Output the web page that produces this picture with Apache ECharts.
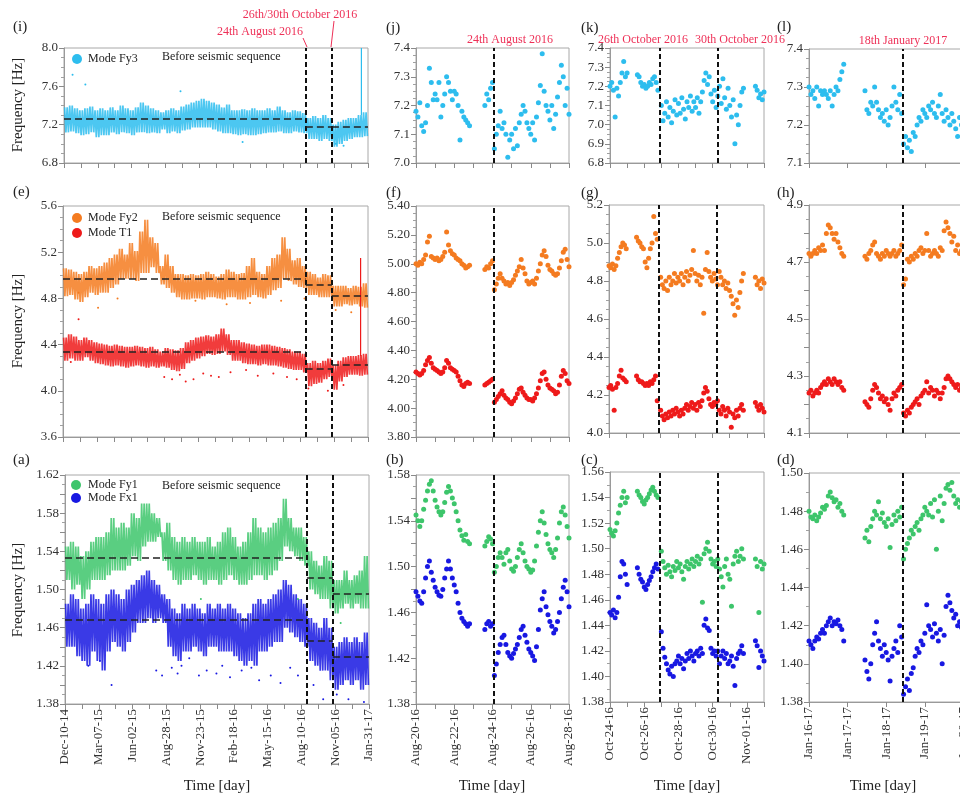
<!DOCTYPE html>
<html><head><meta charset="utf-8">
<script src="https://cdn.jsdelivr.net/npm/echarts@6/dist/echarts.min.js"></script>
<style>html,body{margin:0;padding:0;background:#fff}#c{width:960px;height:794px}</style>
</head><body><div id="c"></div>
<script>
// ---------------- DATA ----------------
// Long-term panels (i),(e),(a): days since Dec-10-14, 60 equal bins over 783 days, band upper/lower
const wideSpan = 783;
const wideLabels = ['Dec-10-14','Mar-07-15','Jun-02-15','Aug-28-15','Nov-23-15','Feb-18-16','May-15-16','Aug-10-16','Nov-05-16','Jan-31-17'];
const wideQuakes = [623, 690];

const fy3Hi = [7.38,7.40,7.37,7.35,7.37,7.39,7.35,7.37,7.35,7.38, 7.35,7.40,7.37,7.35,7.38,7.43,7.40,7.37,7.35,7.33, 7.35,7.37,7.35,7.39,7.41,7.43,7.45,7.47,7.45,7.43, 7.41,7.38,7.41,7.35,7.35,7.36,7.35,7.37,7.35,7.35, 7.37,7.35,7.39,7.35,7.33,7.35,7.34,7.32,7.27,7.29, 7.27,7.30,7.27,7.20,7.23,7.25,7.27,7.27,7.30,7.33];
const fy3Lo = [7.12,7.13,7.11,7.09,7.10,7.12,7.07,7.09,7.09,7.12, 7.10,7.12,7.11,7.09,7.12,7.12,7.11,7.12,7.11,7.15, 7.11,7.13,7.11,7.14,7.15,7.17,7.17,7.17,7.17,7.15, 7.13,7.11,7.11,7.10,7.09,7.10,7.09,7.09,7.10,7.11, 7.12,7.12,7.13,7.11,7.11,7.13,7.12,7.11,7.05,7.05, 7.03,7.05,7.03,6.97,7.00,7.03,7.05,7.07,7.07,7.08];
const fy3Out = [[22,7.72],[55,7.62],[300,7.55],[460,7.02],[720,6.98],[700,7.0]];
const fy3Spike = [[766,7.30,8.00]];
const fy3Mean = [[0,623,7.26],[623,690,7.178],[690,783,7.175]];

const fy2Hi = [5.06,5.05,5.03,5.01,5.03,5.08,5.06,5.08,5.11,5.15, 5.18,5.23,5.18,5.28,5.21,5.38,5.48,5.33,5.28,5.08, 5.18,5.08,5.01,5.01,5.00,5.01,5.00,5.01,5.03,5.01, 4.99,5.01,5.05,5.03,5.01,5.02,5.08,5.15,5.03,5.01, 5.08,5.15,5.18,5.33,5.23,5.13,5.15,5.08,5.03,5.01, 4.98,5.01,5.00,4.91,4.91,4.91,4.89,4.91,4.90,4.93];
const fy2Lo = [4.82,4.83,4.79,4.77,4.81,4.85,4.83,4.85,4.85,4.89, 4.92,4.97,4.97,4.97,4.95,5.02,5.02,5.07,5.02,4.92, 4.89,4.85,4.81,4.79,4.79,4.80,4.80,4.79,4.81,4.81, 4.80,4.79,4.81,4.81,4.79,4.79,4.81,4.83,4.81,4.80, 4.83,4.87,4.89,4.97,4.95,4.92,4.90,4.89,4.83,4.83, 4.81,4.81,4.81,4.73,4.73,4.75,4.74,4.75,4.73,4.72];
const fy2Out = [[40,4.85],[90,4.72],[140,4.80],[340,4.78],[420,4.75],[480,4.76],[560,4.78],[620,4.80],[700,4.70],[740,4.68]];
const fy2Mean = [[0,623,4.972],[623,690,4.92],[690,783,4.82]];

const t1Hi = [4.46,4.49,4.47,4.44,4.46,4.44,4.42,4.41,4.40,4.39, 4.40,4.39,4.38,4.38,4.39,4.38,4.37,4.38,4.36,4.34, 4.37,4.36,4.35,4.37,4.42,4.44,4.46,4.47,4.48,4.47, 4.49,4.54,4.49,4.44,4.44,4.42,4.41,4.40,4.39,4.40, 4.40,4.39,4.38,4.37,4.36,4.34,4.34,4.32,4.24,4.26, 4.24,4.26,4.28,4.22,4.26,4.29,4.30,4.30,4.31,4.32];
const t1Lo = [4.26,4.28,4.26,4.26,4.29,4.26,4.24,4.23,4.22,4.21, 4.22,4.21,4.20,4.21,4.22,4.21,4.20,4.21,4.20,4.21, 4.20,4.18,4.17,4.19,4.24,4.26,4.28,4.30,4.32,4.31, 4.32,4.34,4.31,4.26,4.26,4.24,4.23,4.23,4.22,4.23, 4.22,4.22,4.21,4.20,4.19,4.18,4.18,4.16,4.04,4.06, 4.07,4.10,4.12,4.01,4.08,4.12,4.14,4.14,4.13,4.14];
const t1Out = [[260,4.12],[280,4.10],[300,4.14],[315,4.08],[335,4.10],[360,4.15],[380,4.13],[400,4.12],[430,4.16],[470,4.18],[500,4.13],[540,4.15],[575,4.12],[600,4.10],[630,4.02],[680,4.0],[720,4.05],[40,4.62],[20,4.25]];
const t1Spike = [[764,4.30,5.15]];
const t1Mean = [[0,623,4.335],[623,690,4.19],[690,783,4.225]];

const fy1Hi = [1.545,1.550,1.545,1.535,1.540,1.550,1.555,1.555,1.560,1.575, 1.565,1.570,1.565,1.580,1.575,1.590,1.590,1.580,1.575,1.560, 1.570,1.555,1.550,1.555,1.550,1.555,1.550,1.550,1.555,1.545, 1.550,1.560,1.565,1.555,1.545,1.550,1.560,1.575,1.565,1.560, 1.565,1.570,1.575,1.595,1.575,1.565,1.565,1.555,1.540,1.530, 1.525,1.535,1.530,1.510,1.510,1.520,1.510,1.515,1.520,1.535];
const fy1Lo = [1.510,1.500,1.505,1.490,1.500,1.510,1.510,1.510,1.515,1.520, 1.520,1.520,1.525,1.535,1.530,1.545,1.550,1.550,1.555,1.530, 1.520,1.510,1.505,1.510,1.510,1.515,1.510,1.505,1.510,1.510, 1.505,1.510,1.515,1.510,1.505,1.505,1.510,1.515,1.515,1.510, 1.515,1.520,1.530,1.545,1.540,1.535,1.530,1.525,1.500,1.495, 1.490,1.490,1.480,1.475,1.480,1.485,1.480,1.485,1.480,1.480];
const fy1Out = [[350,1.49],[600,1.49],[710,1.465]];
const fy1Mean = [[0,623,1.533],[623,690,1.512],[690,783,1.496]];

const fx1Hi = [1.485,1.495,1.490,1.480,1.485,1.495,1.490,1.485,1.495,1.500, 1.495,1.490,1.500,1.505,1.510,1.515,1.520,1.510,1.505,1.495, 1.490,1.480,1.475,1.485,1.480,1.485,1.480,1.475,1.485,1.480, 1.485,1.480,1.485,1.480,1.475,1.470,1.475,1.485,1.490,1.485, 1.490,1.495,1.500,1.510,1.505,1.495,1.490,1.485,1.470,1.465, 1.460,1.470,1.460,1.440,1.445,1.450,1.445,1.450,1.445,1.455];
const fx1Lo = [1.440,1.440,1.430,1.425,1.420,1.435,1.425,1.415,1.435,1.445, 1.440,1.435,1.445,1.455,1.465,1.465,1.470,1.465,1.470,1.465, 1.440,1.430,1.425,1.435,1.435,1.440,1.435,1.430,1.440,1.440, 1.435,1.435,1.435,1.430,1.425,1.420,1.425,1.420,1.435,1.435, 1.440,1.445,1.445,1.460,1.455,1.450,1.445,1.440,1.425,1.420, 1.415,1.415,1.405,1.395,1.400,1.405,1.400,1.405,1.395,1.400];
const fx1Out = [[235,1.415],[250,1.41],[275,1.418],[290,1.412],[300,1.42],[320,1.428],[345,1.41],[365,1.415],[390,1.412],[405,1.42],[425,1.408],[455,1.415],[480,1.418],[500,1.405],[530,1.41],[555,1.402],[580,1.418],[600,1.41],[640,1.40],[665,1.385],[700,1.39],[730,1.385],[770,1.382],[120,1.40],[60,1.42],[90,1.425]];
const fx1Mean = [[0,623,1.468],[623,690,1.446],[690,783,1.430]];

// Column 2: days since Aug-20-16
const col2Labels = ['Aug-20-16','Aug-22-16','Aug-24-16','Aug-26-16','Aug-28-16'];
const col2Quakes = [4.07];
const t2 = [0,0.1,0.2,0.3,0.4,0.5,0.6,0.7,0.8,0.9,1.0,1.1,1.2,1.3,1.4,1.5,1.6,1.7,1.8,1.9,2.0,2.1,2.2,2.3,2.4,2.5,2.6,2.7,2.8,
  3.6,3.7,3.8,3.9,4.0,
  4.1,4.2,4.3,4.4,4.5,4.6,4.7,4.8,4.9,5.0,5.1,5.2,5.3,5.4,5.5,5.6,5.7,5.8,5.9,6.0,6.1,6.2,6.3,6.4,6.5,6.6,6.7,6.8,6.9,7.0,7.1,7.2,7.3,7.4,7.5,7.6,7.7,7.8,7.9,8.0];
const j_fy3 = [7.18,7.16,7.21,7.13,7.11,7.14,7.20,7.33,7.28,7.22, 7.24,7.22,7.28,7.16,7.20,7.24,7.30,7.28,7.25,7.22, 7.25,7.24,7.20,7.08,7.18,7.16,7.15,7.14,7.13,
  7.20,7.24,7.22,7.26,7.28,
  7.05,7.10,7.13,7.18,7.12,7.14,7.10,7.02,7.08,7.10, 7.05,7.12,7.06,7.14,7.17,7.20,7.18,7.14,7.12,7.10, 7.14,7.08,7.16,7.21,7.27,7.38,7.25,7.20,7.18,7.15, 7.20,7.12,7.17,7.23,7.28,7.34,7.30,7.20,7.26,7.17];
const f_fy2 = [5.00,4.99,5.01,5.00,5.03,5.06,5.15,5.19,5.05,5.04, 5.03,5.04,5.02,5.03,5.05,5.08,5.22,5.13,5.09,5.07, 5.06,5.04,5.03,5.02,5.00,4.99,4.97,4.98,4.99,
  4.96,4.98,4.97,5.00,5.02,
  4.82,4.86,4.90,4.93,4.90,4.88,4.86,4.87,4.85,4.87, 4.89,4.92,4.95,4.98,5.03,4.97,4.93,4.88,4.86,4.87, 4.88,4.86,4.90,4.95,5.00,5.06,5.09,5.05,4.99,4.96, 4.95,4.93,4.92,4.93,4.97,5.02,5.08,5.10,5.03,4.98];
const f_t1 = [4.25,4.24,4.23,4.24,4.26,4.30,4.33,4.35,4.31,4.28, 4.27,4.26,4.25,4.24,4.25,4.28,4.33,4.31,4.28,4.27, 4.26,4.25,4.22,4.19,4.16,4.15,4.17,4.18,4.17,
  4.16,4.17,4.18,4.19,4.20,
  4.04,4.06,4.08,4.10,4.12,4.09,4.07,4.06,4.04,4.03, 4.05,4.07,4.10,4.13,4.14,4.11,4.09,4.07,4.06,4.06, 4.05,4.07,4.10,4.14,4.19,4.24,4.25,4.20,4.16,4.14, 4.13,4.12,4.10,4.11,4.16,4.22,4.26,4.24,4.19,4.17];
const b_fy1 = [1.545,1.540,1.535,1.540,1.550,1.558,1.566,1.572,1.575,1.566, 1.558,1.552,1.548,1.545,1.548,1.556,1.565,1.570,1.566,1.560, 1.555,1.548,1.540,1.532,1.527,1.523,1.528,1.522,1.520,
  1.518,1.522,1.526,1.524,1.520,
  1.495,1.500,1.508,1.512,1.508,1.502,1.512,1.515,1.505,1.498, 1.496,1.500,1.508,1.515,1.520,1.512,1.505,1.500,1.498,1.495, 1.497,1.505,1.518,1.530,1.540,1.548,1.538,1.528,1.520,1.515, 1.512,1.508,1.515,1.525,1.538,1.548,1.552,1.545,1.535,1.525];
const b_fx1 = [1.478,1.474,1.470,1.468,1.478,1.490,1.500,1.505,1.495,1.488, 1.482,1.478,1.475,1.474,1.480,1.490,1.498,1.505,1.498,1.490, 1.484,1.478,1.468,1.460,1.455,1.452,1.450,1.448,1.450,
  1.445,1.450,1.452,1.448,1.450,
  1.405,1.415,1.425,1.432,1.438,1.440,1.432,1.425,1.422,1.420, 1.424,1.428,1.432,1.438,1.445,1.448,1.440,1.434,1.428,1.425, 1.422,1.418,1.430,1.445,1.462,1.472,1.478,1.465,1.458,1.452, 1.448,1.442,1.445,1.452,1.460,1.472,1.482,1.488,1.478,1.465];

// Column 3: days since Oct-24-16
const col3Labels = ['Oct-24-16','Oct-26-16','Oct-28-16','Oct-30-16','Nov-01-16'];
const col3Quakes = [2.9, 6.28];
const t3 = [0,0.1,0.2,0.3,0.4,0.5,0.6,0.7,0.8,0.9,1.0,
  1.6,1.7,1.8,1.9,2.0,2.1,2.2,2.3,2.4,2.5,2.6,2.7,2.8,
  3.0,3.1,3.2,3.3,3.4,3.5,3.6,3.7,3.8,3.9,4.0,4.1,4.2,4.3,4.4,4.5,4.6,4.7,4.8,4.9,5.0,5.1,5.2,5.3,5.4,5.5,5.6,5.7,5.8,5.9,6.0,6.1,6.2,6.3,6.4,6.5,6.6,6.7,6.8,6.9,7.0,7.1,7.2,7.3,7.4,7.5,7.6,7.7,7.8,
  8.5,8.6,8.7,8.8,8.9,9.0];
const k_fy3 = [7.20,7.22,7.18,7.04,7.19,7.15,7.22,7.27,7.33,7.25,7.27,
  7.26,7.25,7.22,7.20,7.21,7.19,7.20,7.22,7.21,7.24,7.25,7.22,7.18,
  7.10,7.02,7.06,7.12,7.04,7.09,7.01,7.07,7.13,7.05, 7.11,7.06,7.14,7.08,7.03,7.12,7.09,7.15,7.07,7.12, 7.09,7.14,7.06,7.12,7.17,7.23,7.27,7.21,7.25,7.16, 7.12,7.18,7.09,7.15,7.20,7.11,7.24,7.14,7.08,7.19, 7.10,7.04,7.13,6.90,7.05,7.00,7.10,7.17,7.19,
  7.20,7.18,7.14,7.16,7.13,7.17];
const g_fy2 = [4.88,4.87,4.89,4.86,4.88,4.92,4.95,4.98,5.00,4.99,4.97,
  5.03,5.01,5.00,4.98,4.97,4.90,4.87,4.92,4.97,5.00,5.14,5.05,5.02,
  4.82,4.78,4.76,4.80,4.75,4.82,4.78,4.80,4.84,4.79, 4.82,4.80,4.84,4.78,4.82,4.85,4.80,4.83,4.86,4.96, 4.84,4.80,4.83,4.78,4.82,4.63,4.86,4.95,4.85,4.82, 4.80,4.84,4.81,4.78,4.85,4.82,4.78,4.80,4.76,4.79, 4.75,4.72,4.68,4.62,4.70,4.66,4.74,4.80,4.84,
  4.82,4.78,4.80,4.76,4.81,4.79];
const g_t1 = [4.24,4.25,4.23,4.12,4.24,4.26,4.30,4.33,4.29,4.28,4.27,
  4.30,4.28,4.27,4.27,4.26,4.25,4.26,4.25,4.27,4.26,4.28,4.30,4.17,
  4.12,4.09,4.07,4.10,4.08,4.11,4.09,4.12,4.10,4.13, 4.11,4.09,4.12,4.10,4.13,4.15,4.12,4.14,4.16,4.13, 4.15,4.12,4.16,4.14,4.17,4.21,4.24,4.22,4.18,4.15, 4.14,4.16,4.15,4.17,4.12,4.10,4.14,4.12,4.09,4.13, 4.11,4.03,4.10,4.08,4.12,4.09,4.13,4.15,4.12,
  4.16,4.14,4.12,4.15,4.13,4.11];
const c_fy1 = [1.515,1.512,1.510,1.514,1.520,1.528,1.534,1.540,1.545,1.536,1.540,
  1.545,1.542,1.540,1.537,1.535,1.538,1.540,1.543,1.546,1.548,1.545,1.542,1.540,
  1.498,1.490,1.485,1.480,1.487,1.482,1.478,1.486,1.483,1.490, 1.485,1.488,1.482,1.476,1.486,1.490,1.484,1.488,1.492,1.486, 1.490,1.494,1.488,1.492,1.458,1.496,1.500,1.505,1.498,1.492, 1.488,1.490,1.486,1.492,1.484,1.478,1.470,1.486,1.492,1.480, 1.476,1.455,1.488,1.494,1.498,1.490,1.494,1.500,1.492,
  1.492,1.486,1.450,1.490,1.484,1.488];
const c_fx1 = [1.450,1.448,1.452,1.446,1.450,1.462,1.478,1.490,1.488,1.480,1.472,
  1.485,1.480,1.476,1.474,1.470,1.468,1.472,1.475,1.478,1.482,1.485,1.488,1.484,
  1.435,1.422,1.415,1.410,1.405,1.402,1.408,1.400,1.410,1.412, 1.416,1.410,1.414,1.406,1.412,1.418,1.414,1.420,1.416,1.412, 1.418,1.420,1.416,1.422,1.418,1.440,1.445,1.438,1.436,1.422, 1.418,1.420,1.416,1.420,1.410,1.416,1.420,1.414,1.418,1.410, 1.412,1.416,1.408,1.393,1.414,1.418,1.420,1.424,1.418,
  1.428,1.424,1.407,1.420,1.416,1.412];

// Column 4: days since Jan-16-17
const col4Labels = ['Jan-16-17','Jan-17-17','Jan-18-17','Jan-19-17','Jan-20-17'];
const col4Quakes = [2.42];
const t4 = [0,0.05,0.1,0.15,0.2,0.25,0.3,0.35,0.4,0.45,0.5,0.55,0.6,0.65,0.7,0.75,0.8,0.85,0.9,
  1.45,1.5,1.55,1.6,1.65,1.7,1.75,1.8,1.85,1.9,1.95,2.0,2.05,2.1,2.15,2.2,2.25,2.3,2.35,2.4,
  2.45,2.5,2.55,2.6,2.65,2.7,2.75,2.8,2.85,2.9,2.95,3.0,3.05,3.1,3.15,3.2,3.25,3.3,3.35,3.4,3.45,3.5,3.55,3.6,3.65,3.7,3.75,3.8,3.85,3.9,3.95,4.0];
const l_fy3 = [7.30,7.28,7.29,7.27,7.30,7.25,7.29,7.28,7.29,7.28,7.27,7.29,7.25,7.28,7.30,7.29,7.32,7.34,7.36,
  7.29,7.24,7.23,7.26,7.25,7.30,7.26,7.24,7.22,7.23,7.21,7.24,7.20,7.22,7.25,7.30,7.26,7.24,7.28,7.23,
  7.15,7.17,7.14,7.16,7.13,7.18,7.17,7.20,7.22,7.21,7.24,7.23,7.22,7.25,7.24,7.26,7.23,7.22,7.25,7.28,7.23,7.21,7.24,7.22,7.20,7.23,7.21,7.19,7.17,7.22,7.20,7.24];
const h_fy2 = [4.73,4.72,4.73,4.74,4.73,4.75,4.74,4.76,4.74,4.80,4.83,4.82,4.80,4.78,4.80,4.77,4.75,4.73,4.72,
  4.72,4.71,4.73,4.74,4.76,4.77,4.73,4.72,4.71,4.73,4.72,4.74,4.73,4.72,4.73,4.74,4.72,4.73,4.74,4.76,
  4.62,4.64,4.71,4.70,4.72,4.71,4.73,4.72,4.74,4.75,4.73,4.74,4.80,4.74,4.72,4.73,4.74,4.73,4.72,4.75,4.74,4.81,4.84,4.82,4.80,4.77,4.79,4.74,4.76,4.73,4.74,4.72];
const h_t1 = [4.24,4.25,4.23,4.24,4.25,4.24,4.26,4.27,4.28,4.27,4.29,4.28,4.27,4.29,4.28,4.27,4.28,4.26,4.25,
  4.21,4.20,4.19,4.22,4.25,4.27,4.26,4.24,4.22,4.23,4.21,4.22,4.20,4.18,4.22,4.24,4.23,4.25,4.26,4.27,
  4.17,4.16,4.18,4.17,4.19,4.20,4.21,4.22,4.20,4.23,4.24,4.25,4.28,4.24,4.26,4.25,4.23,4.25,4.24,4.22,4.24,4.26,4.29,4.30,4.29,4.28,4.27,4.26,4.27,4.25,4.26,4.25];
const d_fy1 = [1.480,1.477,1.476,1.478,1.475,1.477,1.479,1.482,1.481,1.483,1.488,1.490,1.487,1.485,1.486,1.482,1.484,1.480,1.478,
  1.466,1.470,1.464,1.472,1.476,1.480,1.478,1.485,1.476,1.479,1.474,1.472,1.476,1.461,1.473,1.478,1.475,1.480,1.477,1.482,
  1.455,1.460,1.463,1.466,1.470,1.468,1.472,1.474,1.470,1.476,1.478,1.482,1.480,1.478,1.484,1.477,1.486,1.460,1.480,1.488,1.475,1.484,1.492,1.494,1.491,1.495,1.488,1.484,1.486,1.482,1.485,1.483];
const d_fx1 = [1.412,1.410,1.408,1.412,1.414,1.413,1.416,1.418,1.416,1.420,1.422,1.424,1.420,1.422,1.421,1.423,1.420,1.418,1.412,
  1.402,1.396,1.392,1.400,1.410,1.416,1.422,1.412,1.408,1.404,1.410,1.406,1.402,1.391,1.404,1.408,1.412,1.406,1.420,1.414,
  1.384,1.388,1.392,1.386,1.395,1.398,1.404,1.408,1.406,1.412,1.410,1.416,1.431,1.420,1.418,1.414,1.421,1.416,1.412,1.418,1.400,1.415,1.430,1.436,1.432,1.428,1.424,1.426,1.420,1.422,1.419,1.424];

// ---------------- STYLE / BUILD ----------------
const FONT = '"Liberation Serif","DejaVu Serif",serif';
const C_CYAN = '#2DBDEE', C_ORANGE = '#F47B20', C_RED = '#EE1A1A', C_GREEN = '#3DC56B', C_BLUE = '#1818E2', C_NOTE = '#EE3057';

const grids = [], xAxes = [], yAxes = [], series = [];

function fmtY(dec, base, step, skipOdd) {
  return function (v) {
    if (skipOdd) { const k = Math.round((v - base) / step); if (k % 2 !== 0) return ''; }
    return v.toFixed(dec);
  };
}
const WX = { min: 0, max: wideSpan, interval: 43.5, fmt: v => { const k = Math.round(v / 87); return Math.abs(v - 87 * k) < 0.5 ? (wideLabels[k] || '') : ''; } };
const C2X = { min: 0, max: 8, interval: 1, fmt: v => { const r = Math.round(v); return (Math.abs(v - r) < 0.01 && r % 2 === 0) ? (col2Labels[r / 2] || '') : ''; } };
const C3X = { min: 0, max: 9, interval: 1, fmt: v => { const r = Math.round(v); return (Math.abs(v - r) < 0.01 && r % 2 === 0) ? (col3Labels[r / 2] || '') : ''; } };
const C4X = { min: 0, max: 4.3, interval: 1, fmt: v => { const r = Math.round(v); return (Math.abs(v - r) < 0.01) ? (col4Labels[r] || '') : ''; } };

function panel(rect, xo, yo, showX) {
  const gi = grids.length;
  grids.push({ left: rect[0], top: rect[1], width: rect[2], height: rect[3], show: true, borderColor: '#a8a8a8', borderWidth: 1, containLabel: false, outerBoundsMode: 'none' });
  xAxes.push({ gridIndex: gi, type: 'value', min: xo.min, max: xo.max, interval: xo.interval,
    axisLine: { show: true, onZero: false, lineStyle: { color: '#9a9a9a' } },
    axisTick: { show: true, length: 5, lineStyle: { color: '#8a8a8a' } },
    minorTick: { show: false }, splitLine: { show: false },
    axisLabel: { show: showX, rotate: 90, fontFamily: FONT, fontSize: 13, color: '#333', margin: 5, formatter: xo.fmt, hideOverlap: false, showMinLabel: true, showMaxLabel: true } });
  yAxes.push({ gridIndex: gi, type: 'value', min: yo.min, max: yo.max, interval: yo.interval,
    axisLine: { show: true, onZero: false, lineStyle: { color: '#9a9a9a' } },
    axisTick: { show: true, length: 5, lineStyle: { color: '#8a8a8a' } },
    minorTick: { show: true, splitNumber: yo.minor || 4, length: 3, lineStyle: { color: '#a0a0a0' } },
    splitLine: { show: false }, minorSplitLine: { show: false },
    axisLabel: { fontFamily: FONT, fontSize: 13, color: '#333', margin: 6, formatter: yo.fmt, showMinLabel: true, showMaxLabel: true } });
  return gi;
}

function zig(hi, lo, span) {
  const w = span / hi.length, out = [];
  for (let i = 0; i < hi.length; i++) {
    const x = i * w;
    out.push([x + 0.125 * w, hi[i]], [x + 0.375 * w, lo[i]], [x + 0.625 * w, hi[i]], [x + 0.875 * w, lo[i]]);
  }
  return out;
}
function zip(t, v) { const out = []; for (let i = 0; i < t.length && i < v.length; i++) out.push([t[i], v[i]]); return out; }

function marks(quakes, means) {
  const data = quakes.map(q => ({ xAxis: q, lineStyle: { color: '#111', type: [5, 3], width: 2 } }));
  (means || []).forEach(m => data.push([{ coord: [m[0], m[2]], lineStyle: { color: '#222', type: [7, 4], width: 1.5 } }, { coord: [m[1], m[2]] }]));
  return { silent: true, symbol: ['none', 'none'], label: { show: false }, animation: false, data: data };
}

function band(gi, hi, lo, color) {
  series.push({ type: 'line', xAxisIndex: gi, yAxisIndex: gi, data: zig(hi, lo, wideSpan), showSymbol: false, symbol: 'none',
    lineStyle: { width: 1.7, color: color, opacity: 0.85 }, animation: false, silent: true, z: 2 });
}
function dots(gi, data, color, size) {
  series.push({ type: 'scatter', xAxisIndex: gi, yAxisIndex: gi, data: data, symbolSize: size, itemStyle: { color: color, opacity: 1 }, animation: false, silent: true, z: 3 });
}
function spikes(gi, list, color) {
  list.forEach(s => series.push({ type: 'line', xAxisIndex: gi, yAxisIndex: gi, data: [[s[0], s[1]], [s[0], s[2]]], showSymbol: false, symbol: 'none',
    lineStyle: { width: 1.2, color: color }, animation: false, silent: true, z: 2 }));
}
function markHolder(gi, quakes, means) {
  series.push({ type: 'line', xAxisIndex: gi, yAxisIndex: gi, data: [], symbol: 'none', markLine: marks(quakes, means), z: 5, animation: false });
}

// Row 1
const gI = panel([64, 48, 304, 115], WX, { min: 6.8, max: 8.0, interval: 0.4, minor: 4, fmt: fmtY(1) }, false);
band(gI, fy3Hi, fy3Lo, C_CYAN); dots(gI, fy3Out, C_CYAN, 2); spikes(gI, fy3Spike, C_CYAN);
markHolder(gI, wideQuakes, fy3Mean);

const gJ = panel([416, 48, 153, 115], C2X, { min: 7.0, max: 7.4, interval: 0.1, minor: 4, fmt: fmtY(1) }, false);
dots(gJ, zip(t2, j_fy3), C_CYAN, 5); markHolder(gJ, col2Quakes);

const gK = panel([610, 48, 154, 115], C3X, { min: 6.8, max: 7.4, interval: 0.1, minor: 4, fmt: fmtY(1) }, false);
dots(gK, zip(t3, k_fy3), C_CYAN, 5); markHolder(gK, col3Quakes);

const gL = panel([809, 49, 166, 114], C4X, { min: 7.1, max: 7.4, interval: 0.1, minor: 4, fmt: fmtY(1) }, false);
dots(gL, zip(t4, l_fy3), C_CYAN, 5); markHolder(gL, col4Quakes);

// Row 2
const gE = panel([63, 206, 305, 231], WX, { min: 3.6, max: 5.6, interval: 0.4, minor: 4, fmt: fmtY(1) }, false);
band(gE, fy2Hi, fy2Lo, C_ORANGE); dots(gE, fy2Out, C_ORANGE, 2);
band(gE, t1Hi, t1Lo, C_RED); dots(gE, t1Out, C_RED, 2); spikes(gE, t1Spike, C_RED);
markHolder(gE, wideQuakes, fy2Mean.concat(t1Mean));

const gF = panel([416, 206, 153, 231], C2X, { min: 3.8, max: 5.4, interval: 0.2, minor: 4, fmt: fmtY(2) }, false);
dots(gF, zip(t2, f_fy2), C_ORANGE, 5); dots(gF, zip(t2, f_t1), C_RED, 5); markHolder(gF, col2Quakes);

const gG = panel([609, 205, 155, 228], C3X, { min: 4.0, max: 5.2, interval: 0.2, minor: 4, fmt: fmtY(1) }, false);
dots(gG, zip(t3, g_fy2), C_ORANGE, 5); dots(gG, zip(t3, g_t1), C_RED, 5); markHolder(gG, col3Quakes);

const gH = panel([809, 205, 166, 228], C4X, { min: 4.1, max: 4.9, interval: 0.1, minor: 2, fmt: fmtY(1, 4.1, 0.1, true) }, false);
dots(gH, zip(t4, h_fy2), C_ORANGE, 5); dots(gH, zip(t4, h_t1), C_RED, 5); markHolder(gH, col4Quakes);

// Row 3
const gA = panel([65, 475, 304, 229], WX, { min: 1.38, max: 1.62, interval: 0.02, minor: 2, fmt: fmtY(2, 1.38, 0.02, true) }, true);
band(gA, fy1Hi, fy1Lo, C_GREEN); dots(gA, fy1Out, C_GREEN, 2);
band(gA, fx1Hi, fx1Lo, C_BLUE); dots(gA, fx1Out, C_BLUE, 2);
markHolder(gA, wideQuakes, fy1Mean.concat(fx1Mean));

const gB = panel([416, 475, 153, 229], C2X, { min: 1.38, max: 1.58, interval: 0.02, minor: 2, fmt: fmtY(2, 1.38, 0.02, true) }, true);
dots(gB, zip(t2, b_fy1), C_GREEN, 5); dots(gB, zip(t2, b_fx1), C_BLUE, 5); markHolder(gB, col2Quakes);

const gC = panel([610, 472, 154, 230], C3X, { min: 1.38, max: 1.56, interval: 0.02, minor: 2, fmt: fmtY(2) }, true);
dots(gC, zip(t3, c_fy1), C_GREEN, 5); dots(gC, zip(t3, c_fx1), C_BLUE, 5); markHolder(gC, col3Quakes);

const gD = panel([809, 473, 166, 229], C4X, { min: 1.38, max: 1.50, interval: 0.02, minor: 2, fmt: fmtY(2) }, true);
dots(gD, zip(t4, d_fy1), C_GREEN, 5); dots(gD, zip(t4, d_fx1), C_BLUE, 5); markHolder(gD, col4Quakes);

// ---------------- TEXT / GRAPHICS ----------------
function txt(x, y, s, opt) {
  opt = opt || {};
  const align = opt.align || 'left';
  const el = { type: 'text', x: x, y: y, z: 100, silent: true,
    style: { text: s, font: (opt.size || 13) + 'px ' + FONT, fill: opt.color || '#222',
      textAlign: align, textVerticalAlign: 'middle', align: align, verticalAlign: 'middle' } };
  if (opt.rot) el.rotation = opt.rot;
  return el;
}
const g = [];
[['(i)', 13, 27], ['(e)', 13, 192], ['(a)', 13, 460],
 ['(j)', 386, 28], ['(f)', 386, 193], ['(b)', 386, 460],
 ['(k)', 581, 28], ['(g)', 581, 193], ['(c)', 581, 460],
 ['(l)', 777, 27], ['(h)', 777, 193], ['(d)', 777, 460]].forEach(p => g.push(txt(p[1], p[2], p[0], { size: 15 })));

[105, 321, 590].forEach(y => g.push(txt(18, y, 'Frequency [Hz]', { size: 15, align: 'center', rot: Math.PI / 2 })));
[217, 492, 687, 883].forEach(x => g.push(txt(x, 786, 'Time [day]', { size: 15, align: 'center' })));

[57, 217, 486].forEach(y => g.push(txt(162, y, 'Before seismic sequence', { size: 12 })));
[[77, 59, C_CYAN, 'Mode Fy3'], [77, 218, C_ORANGE, 'Mode Fy2'], [77, 233, C_RED, 'Mode T1'],
 [76, 485, C_GREEN, 'Mode Fy1'], [76, 498, C_BLUE, 'Mode Fx1']].forEach(l => {
  g.push({ type: 'circle', z: 100, silent: true, shape: { cx: l[0], cy: l[1], r: 5 }, style: { fill: l[2] } });
  g.push(txt(88, l[1], l[3], { size: 12 }));
});

g.push(txt(300, 15, '26th/30th October 2016', { size: 12, align: 'center', color: C_NOTE }));
g.push(txt(260, 32, '24th August 2016', { size: 12, align: 'center', color: C_NOTE }));
g.push({ type: 'line', z: 100, silent: true, shape: { x1: 303, y1: 38, x2: 307, y2: 47 }, style: { stroke: C_NOTE, lineWidth: 1 } });
g.push({ type: 'line', z: 100, silent: true, shape: { x1: 334, y1: 21, x2: 331, y2: 47 }, style: { stroke: C_NOTE, lineWidth: 1 } });
g.push(txt(510, 40, '24th August 2016', { size: 12, align: 'center', color: C_NOTE }));
g.push(txt(643, 40, '26th October 2016', { size: 12, align: 'center', color: C_NOTE }));
g.push(txt(740, 40, '30th October 2016', { size: 12, align: 'center', color: C_NOTE }));
g.push(txt(903, 41, '18th January 2017', { size: 12, align: 'center', color: C_NOTE }));

const chart = echarts.init(document.getElementById('c'), null, { renderer: 'canvas', width: 960, height: 794 });
chart.setOption({
  backgroundColor: '#ffffff',
  animation: false,
  grid: grids, xAxis: xAxes, yAxis: yAxes, series: series,
  graphic: { elements: g }
});
</script>
</body></html>
